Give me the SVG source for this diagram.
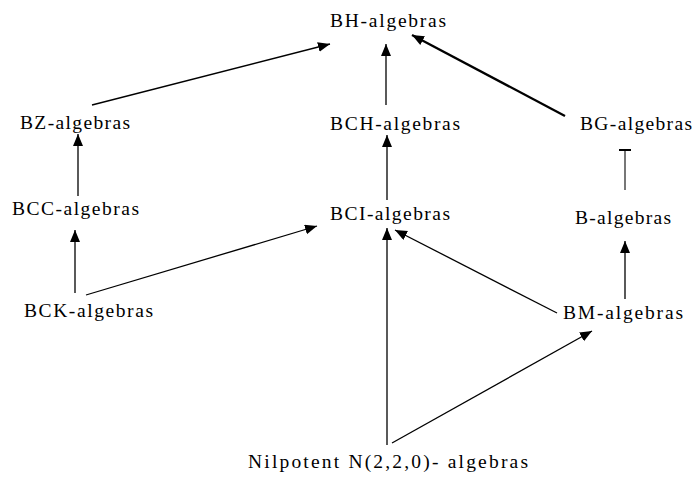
<svg xmlns="http://www.w3.org/2000/svg" width="694" height="477" viewBox="0 0 694 477">
<style>
text{font-family:"Liberation Serif","Times New Roman",serif;font-size:19.5px;fill:#000}
.c{stroke:#000;stroke-width:1.3;fill:none}
.a{marker-end:url(#arr)}
</style>
<defs>
<marker id="arr" markerUnits="userSpaceOnUse" markerWidth="13" markerHeight="11" refX="12" refY="5" orient="auto"><path d="M0,0 L12,5 L0,10 z" fill="#000"/></marker>
<marker id="tee" markerUnits="userSpaceOnUse" markerWidth="4" markerHeight="14" refX="1" refY="7" orient="auto"><path d="M1,1 L1,13" stroke="#000" stroke-width="2"/></marker>
</defs>
<rect width="694" height="477" fill="#fff"/>
<g id="connectors">
<line class="c a" x1="92" y1="105" x2="330" y2="44"/>
<line class="c a" x1="386" y1="105" x2="386" y2="44"/>
<line class="c a" x1="565" y1="116" x2="412" y2="35" style="stroke-width:2.3"/>
<line class="c a" x1="387" y1="200" x2="387" y2="135"/>
<line class="c a" x1="78" y1="196" x2="78" y2="134"/>
<line class="c a" x1="75" y1="293" x2="75" y2="230"/>
<line class="c a" x1="86" y1="295" x2="317" y2="226"/>
<line class="c a" x1="387" y1="445" x2="387" y2="228"/>
<line class="c a" x1="557" y1="313" x2="395" y2="230"/>
<line class="c a" x1="392" y1="443" x2="592" y2="331"/>
<line class="c a" x1="625" y1="299" x2="625" y2="241"/>
<line class="c" x1="625" y1="190" x2="625" y2="150" style="stroke:#555;stroke-width:1.6" marker-end="url(#tee)"/>
</g>
<g id="bh"><text x="330" y="27" textLength="116" lengthAdjust="spacing">BH-algebras</text></g>
<g id="bz"><text x="20" y="129" textLength="110" lengthAdjust="spacing">BZ-algebras</text></g>
<g id="bch"><text x="330" y="130" textLength="130" lengthAdjust="spacing">BCH-algebras</text></g>
<g id="bg"><text x="580" y="130" textLength="112" lengthAdjust="spacing">BG-algebras</text></g>
<g id="bcc"><text x="12" y="215" textLength="127" lengthAdjust="spacing">BCC-algebras</text></g>
<g id="bci"><text x="330" y="220" textLength="120" lengthAdjust="spacing">BCI-algebras</text></g>
<g id="b"><text x="575" y="224" textLength="96" lengthAdjust="spacing">B-algebras</text></g>
<g id="bck"><text x="24" y="317" textLength="129" lengthAdjust="spacing">BCK-algebras</text></g>
<g id="bm"><text x="563" y="319" textLength="120" lengthAdjust="spacing">BM-algebras</text></g>
<g id="nil"><text x="248" y="468" textLength="280" lengthAdjust="spacing">Nilpotent N(2,2,0)- algebras</text></g>
</svg>
